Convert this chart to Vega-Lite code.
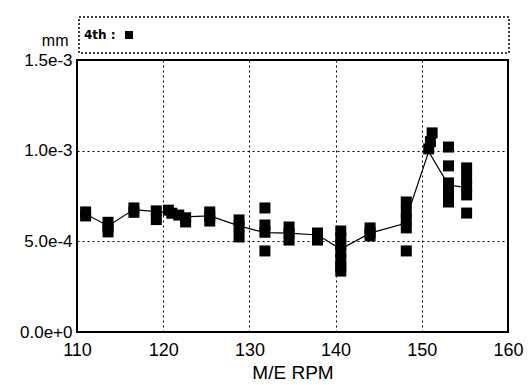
{
  "$schema": "https://vega.github.io/schema/vega-lite/v6.json",
  "width": 431,
  "height": 272,
  "autosize": {"type": "none"},
  "padding": {"left": 77, "top": 60, "right": 21, "bottom": 53},
  "background": "white",
  "config": {
    "view": {"stroke": "black", "strokeWidth": 2},
    "font": "Liberation Sans",
    "legend": {"strokeDash": [2, 2], "strokeWidth": 1.5}
  },
  "datasets": {
    "points": [
      {"rpm": 111.0, "mm": 0.000662, "series": "4th"},
      {"rpm": 111.0, "mm": 0.000640, "series": "4th"},
      {"rpm": 113.6, "mm": 0.000605, "series": "4th"},
      {"rpm": 113.6, "mm": 0.000580, "series": "4th"},
      {"rpm": 113.6, "mm": 0.000552, "series": "4th"},
      {"rpm": 116.6, "mm": 0.000684, "series": "4th"},
      {"rpm": 116.6, "mm": 0.000660, "series": "4th"},
      {"rpm": 119.2, "mm": 0.000668, "series": "4th"},
      {"rpm": 119.2, "mm": 0.000620, "series": "4th"},
      {"rpm": 120.6, "mm": 0.000672, "series": "4th"},
      {"rpm": 121.0, "mm": 0.000655, "series": "4th"},
      {"rpm": 121.8, "mm": 0.000645, "series": "4th"},
      {"rpm": 122.6, "mm": 0.000630, "series": "4th"},
      {"rpm": 122.6, "mm": 0.000607, "series": "4th"},
      {"rpm": 125.4, "mm": 0.000662, "series": "4th"},
      {"rpm": 125.4, "mm": 0.000640, "series": "4th"},
      {"rpm": 125.4, "mm": 0.000612, "series": "4th"},
      {"rpm": 128.8, "mm": 0.000618, "series": "4th"},
      {"rpm": 128.8, "mm": 0.000580, "series": "4th"},
      {"rpm": 128.8, "mm": 0.000524, "series": "4th"},
      {"rpm": 131.8, "mm": 0.000684, "series": "4th"},
      {"rpm": 131.8, "mm": 0.000590, "series": "4th"},
      {"rpm": 131.8, "mm": 0.000550, "series": "4th"},
      {"rpm": 131.8, "mm": 0.000447, "series": "4th"},
      {"rpm": 134.6, "mm": 0.000579, "series": "4th"},
      {"rpm": 134.6, "mm": 0.000545, "series": "4th"},
      {"rpm": 134.6, "mm": 0.000507, "series": "4th"},
      {"rpm": 137.9, "mm": 0.000546, "series": "4th"},
      {"rpm": 137.9, "mm": 0.000525, "series": "4th"},
      {"rpm": 137.9, "mm": 0.000507, "series": "4th"},
      {"rpm": 140.6, "mm": 0.000557, "series": "4th"},
      {"rpm": 140.6, "mm": 0.000520, "series": "4th"},
      {"rpm": 140.6, "mm": 0.000480, "series": "4th"},
      {"rpm": 140.6, "mm": 0.000440, "series": "4th"},
      {"rpm": 140.6, "mm": 0.000400, "series": "4th"},
      {"rpm": 140.6, "mm": 0.000360, "series": "4th"},
      {"rpm": 140.6, "mm": 0.000336, "series": "4th"},
      {"rpm": 144.0, "mm": 0.000574, "series": "4th"},
      {"rpm": 144.0, "mm": 0.000550, "series": "4th"},
      {"rpm": 144.0, "mm": 0.000530, "series": "4th"},
      {"rpm": 148.2, "mm": 0.000717, "series": "4th"},
      {"rpm": 148.2, "mm": 0.000662, "series": "4th"},
      {"rpm": 148.2, "mm": 0.000620, "series": "4th"},
      {"rpm": 148.2, "mm": 0.000574, "series": "4th"},
      {"rpm": 148.2, "mm": 0.000447, "series": "4th"},
      {"rpm": 150.8, "mm": 0.001010, "series": "4th"},
      {"rpm": 151.0, "mm": 0.001050, "series": "4th"},
      {"rpm": 151.2, "mm": 0.001098, "series": "4th"},
      {"rpm": 153.1, "mm": 0.001020, "series": "4th"},
      {"rpm": 153.1, "mm": 0.000916, "series": "4th"},
      {"rpm": 153.1, "mm": 0.000822, "series": "4th"},
      {"rpm": 153.1, "mm": 0.000770, "series": "4th"},
      {"rpm": 153.1, "mm": 0.000717, "series": "4th"},
      {"rpm": 155.2, "mm": 0.000905, "series": "4th"},
      {"rpm": 155.2, "mm": 0.000850, "series": "4th"},
      {"rpm": 155.2, "mm": 0.000800, "series": "4th"},
      {"rpm": 155.2, "mm": 0.000756, "series": "4th"},
      {"rpm": 155.2, "mm": 0.000656, "series": "4th"}
    ],
    "trend": [
      {"rpm": 111.0, "mm": 0.000651},
      {"rpm": 113.6, "mm": 0.000585},
      {"rpm": 116.6, "mm": 0.000675},
      {"rpm": 120.2, "mm": 0.000660},
      {"rpm": 122.4, "mm": 0.000635},
      {"rpm": 125.4, "mm": 0.000640},
      {"rpm": 128.8, "mm": 0.000585},
      {"rpm": 131.8, "mm": 0.000548},
      {"rpm": 134.6, "mm": 0.000545},
      {"rpm": 137.9, "mm": 0.000535},
      {"rpm": 140.6, "mm": 0.000458},
      {"rpm": 144.0, "mm": 0.000545},
      {"rpm": 148.0, "mm": 0.000598},
      {"rpm": 150.8, "mm": 0.000995},
      {"rpm": 153.1, "mm": 0.000810},
      {"rpm": 155.2, "mm": 0.000797}
    ]
  },
  "encoding": {
    "x": {
      "field": "rpm",
      "type": "quantitative",
      "scale": {"domain": [110, 160], "nice": false, "zero": false},
      "axis": {
        "title": "M/E RPM",
        "values": [110, 120, 130, 140, 150, 160],
        "grid": true,
        "gridColor": "black",
        "gridDash": [2, 3],
        "gridWidth": 1,
        "gridOpacity": 1,
        "domain": false,
        "ticks": false,
        "labelFont": "Liberation Sans",
        "labelFontSize": 18,
        "labelColor": "black",
        "labelPadding": 9,
        "labelFlush": false,
        "titleFont": "Liberation Sans",
        "titleFontSize": 19,
        "titleFontWeight": "normal",
        "titleColor": "black",
        "titlePadding": 4
      }
    },
    "y": {
      "field": "mm",
      "type": "quantitative",
      "scale": {"domain": [0, 0.0015], "nice": false},
      "axis": {
        "title": "mm",
        "values": [0, 0.0005, 0.001, 0.0015],
        "labelExpr": "datum.value == 0 ? '0.0e+0' : replace(format(datum.value, '.1e'), '\u2212', '-')",
        "grid": true,
        "gridColor": "black",
        "gridDash": [2, 3],
        "gridWidth": 1,
        "gridOpacity": 1,
        "domain": false,
        "ticks": false,
        "labelFont": "Liberation Sans",
        "labelFontSize": 17,
        "labelColor": "black",
        "labelPadding": 5,
        "labelFlush": false,
        "titleFont": "Liberation Sans",
        "titleFontSize": 16,
        "titleFontWeight": "normal",
        "titleColor": "black",
        "titleAngle": 0,
        "titleAlign": "right",
        "titleBaseline": "middle",
        "titleX": -9,
        "titleY": -20,
        "encode": {
          "labels": {
            "update": {
              "baseline": {"signal": "datum.value == 0 ? 'bottom' : 'middle'"}
            }
          }
        }
      }
    }
  },
  "layer": [
    {
      "data": {"name": "trend"},
      "mark": {"type": "line", "color": "black", "strokeWidth": 1.2},
      "encoding": {}
    },
    {
      "data": {"name": "points"},
      "mark": {"type": "point", "shape": "square", "filled": true, "size": 121, "opacity": 1},
      "encoding": {
        "color": {
          "field": "series",
          "type": "nominal",
          "scale": {"range": ["black"]},
          "legend": {
            "orient": "none",
            "legendX": 2,
            "legendY": -43,
            "title": "4th :",
            "titleOrient": "left",
            "titleFont": "DejaVu Sans",
            "titleFontSize": 12,
            "titleFontWeight": "bold",
            "titleColor": "black",
            "titlePadding": 0,
            "titleBaseline": "middle",
            "symbolType": "square",
            "symbolSize": 64,
            "symbolStrokeWidth": 0,
            "labelExpr": "' '",
            "labelFontSize": 26,
            "labelColor": "transparent",
            "labelOffset": 362,
            "padding": 5,
            "strokeColor": "black"
          }
        }
      }
    }
  ]
}
